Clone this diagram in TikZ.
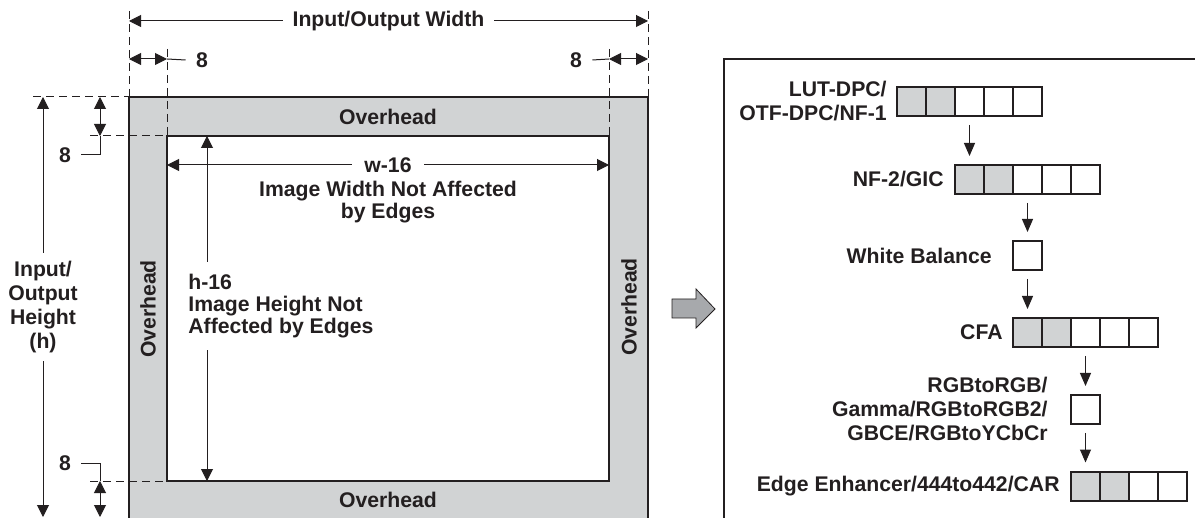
\documentclass[tikz,border=0pt]{standalone}
\usepackage{fontspec}
\setmainfont{Liberation Sans}
\usetikzlibrary{arrows.meta,positioning}
\definecolor{inkdark}{HTML}{231F20}
\definecolor{bandgray}{HTML}{D1D3D4}
\definecolor{arrowgray}{HTML}{A7A9AC}
% one row of pixel cells: name, left x, centre y, cells, grey cells
\newcommand{\pixrow}[5]{%
  \foreach \i in {1,...,#4}{%
    \ifnum\i>#5 \def\cellfill{white}\else\def\cellfill{bandgray}\fi
    \node[pixcell, fill=\cellfill] (#1-\i) at ({#2+(\i-0.5)*29},#3) {};
  }}
\begin{document}
\begin{tikzpicture}[x=0.5pt, y=-0.5pt,
    >={Triangle[length=6pt,width=6pt]},
    every node/.style={font=\fontsize{10.6}{12}\selectfont\bfseries, text=inkdark},
    frame/.style={draw=inkdark, line width=1.2pt},
    ext/.style={draw=inkdark, line width=0.5pt, dash pattern=on 4pt off 2.5pt},
    dim/.style={draw=inkdark, line width=0.5pt},
    gap/.style={fill=white, inner xsep=5pt, inner ysep=1pt},
    overhead/.style={inner sep=0pt},
    narrowtext/.style={font=\fontsize{10.6}{11}\selectfont\bfseries},
    pixcell/.style={draw=inkdark, line width=1pt, minimum size=14.5pt, inner sep=0pt, outer sep=0pt},
    steplabel/.style={align=right, inner sep=0pt},
    flow/.style={draw=inkdark, line width=0.5pt, -{Triangle[length=6.5pt,width=5.5pt]},
      shorten <=4.5pt, shorten >=4.5pt}]
  \useasboundingbox (0,0) rectangle (1195,518);
  \clip (0,0) rectangle (1195,518);

  % image frame with overhead band
  \coordinate (oTL) at (129,97);
  \coordinate (oTR) at (648,97);
  \coordinate (iTL) at (167,136);
  \coordinate (iTR) at (609,136);
  \coordinate (iBL) at (167,481);
  \coordinate (iBR) at (609,481);
  \filldraw[frame, fill=bandgray] (oTL) rectangle (648,540);
  \filldraw[frame, fill=white] (iTL) rectangle (iBR);
  \node[overhead] (ohTop) at (388,117) {Overhead};
  \node[overhead] (ohBot) at (388,500) {Overhead};
  \node[overhead, rotate=90] (ohLeft) at (148,309) {Overhead};
  \node[overhead, rotate=90] (ohRight) at (629,307) {Overhead};

  % extension lines
  \draw[ext] (129,11) -- (oTL);
  \draw[ext] (648,11) -- (oTR);
  \draw[ext] (167,49) -- (iTL);
  \draw[ext] (609,49) -- (iTR);
  \draw[ext] (33,97) -- (oTL);
  \draw[ext] (90,136) -- (iTL);
  \draw[ext] (90,481) -- (iBL);

  % width dimensions
  \draw[dim, <->] (129,21) -- node[gap] (wLab) {Input/Output Width} (648,21);
  \draw[dim, <->] (129,59) -- (167,59);
  \node[gap] (w8l) at (202,60) {8};
  \draw[dim] (167,59) -- (w8l.west);
  \draw[dim, <->] (609,59) -- (648,59);
  \node[gap] (w8r) at (576,60) {8};
  \draw[dim] (w8r.east) -- (609,59);

  % height dimensions
  \node[align=center, inner ysep=4pt] (hLab) at (43,307) {Input/\\Output\\Height\\(h)};
  \draw[dim, ->] (hLab.north) -- (43,97);
  \draw[dim, ->] (hLab.south) -- (43,517);
  \draw[dim, <->] (100,97) -- (100,136);
  \node[gap] (h8t) at (65,155) {8};
  \draw[dim] (100,136) |- (h8t.east);
  \draw[dim, <->] (100,481) -- (100,517);
  \node[gap] (h8b) at (65,463) {8};
  \draw[dim] (100,481) |- (h8b.east);

  % area not affected by edges
  \draw[dim, <->] (167,165) -- node[gap, inner xsep=6pt] (w16) {w-16} (609,165);
  \node[narrowtext, align=center] (wTxt) at (388,202) {Image Width Not Affected\\by Edges};
  \draw[dim, <->] (207,136) -- (207,481);
  \node[gap, narrowtext, align=left, anchor=west, inner xsep=6pt, inner ysep=6pt] (hTxt)
    at (176,306) {h-16\\Image Height Not\\Affected by Edges};

  % grey arrow
  \filldraw[draw=inkdark, fill=arrowgray, line width=0.4pt]
    (672,299) -- (696,299) -- (696,289) -- (715,309) -- (696,328) -- (696,318) -- (672,318) -- cycle;

  % line buffers panel
  \draw[frame] (1200,59) -- (724,59) -- (724,525);
  \pixrow{lut}{897}{101.5}{5}{2}
  \pixrow{nf}{955}{179.5}{5}{2}
  \pixrow{wb}{1013}{255.5}{1}{0}
  \pixrow{cfa}{1013}{332.5}{5}{2}
  \pixrow{rgb}{1071}{409.5}{1}{0}
  \pixrow{edge}{1071}{486}{4}{2}
  \node[steplabel, left=5pt of lut-1] (lutLab) {LUT-DPC/\\OTF-DPC/NF-1};
  \node[steplabel, left=5.5pt of nf-1] (nfLab) {NF-2/GIC};
  \node[steplabel, left=10.5pt of wb-1] (wbLab) {White Balance};
  \node[steplabel, left=5pt of cfa-1] (cfaLab) {CFA};
  \node[steplabel, left=11.5pt of rgb-1] (rgbLab) {RGBtoRGB/\\Gamma/RGBtoRGB2/\\GBCE/RGBtoYCbCr};
  \node[steplabel, left=5.5pt of edge-1] (edgeLab) {Edge Enhancer/444to442/CAR};
  \draw[flow] (lut-3) -- (nf-1);
  \draw[flow] (nf-3) -- (wb-1);
  \draw[flow] (wb-1) -- (cfa-1);
  \draw[flow] (cfa-3) -- (rgb-1);
  \draw[flow] (rgb-1) -- (edge-1);
\end{tikzpicture}
\end{document}
